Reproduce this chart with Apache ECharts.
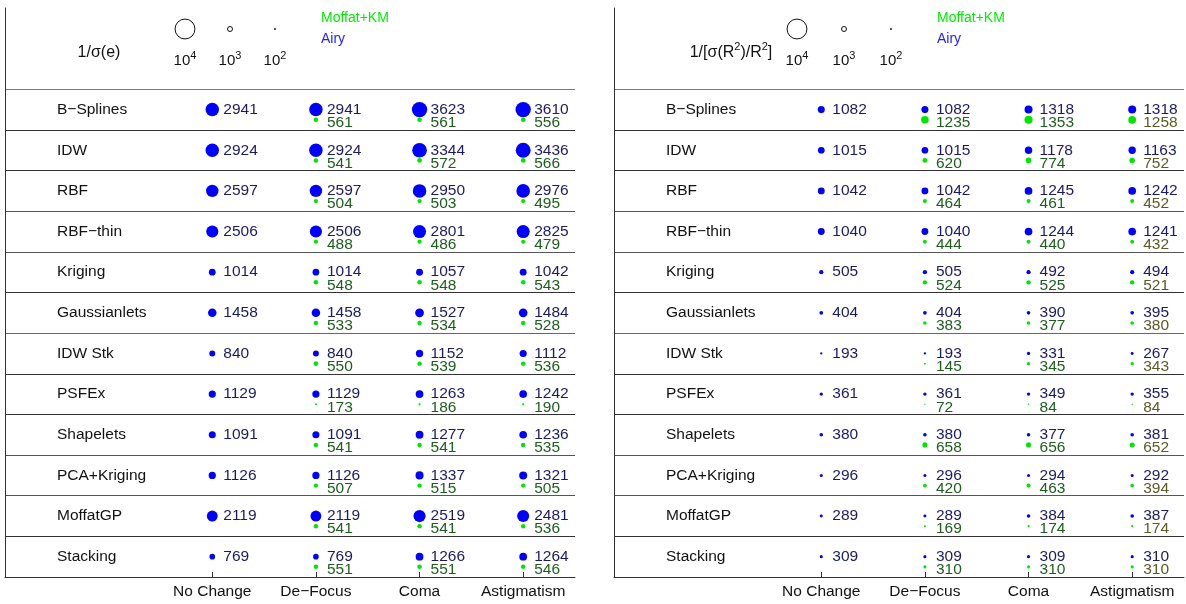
<!DOCTYPE html>
<html>
<head>
<meta charset="utf-8">
<script src="https://cdn.jsdelivr.net/npm/echarts@6/dist/echarts.min.js"></script>
<style>
  html, body { margin: 0; padding: 0; background: #fff; }
  #chart { width: 1186px; height: 604px; }
</style>
</head>
<body>
<div id="chart"></div>
<script>
// rows of the table, top to bottom
const methods = ['B\u2212Splines', 'IDW', 'RBF', 'RBF\u2212thin', 'Kriging', 'Gaussianlets',
  'IDW Stk', 'PSFEx', 'Shapelets', 'PCA+Kriging', 'MoffatGP', 'Stacking'];
const columns = ['No Change', 'De\u2212Focus', 'Coma', 'Astigmatism'];

// 1/sigma(e) : Airy (all 4 columns) and Moffat+KM (De-Focus, Coma, Astigmatism)
const ellAiry = [
  [2941, 2941, 3623, 3610],
  [2924, 2924, 3344, 3436],
  [2597, 2597, 2950, 2976],
  [2506, 2506, 2801, 2825],
  [1014, 1014, 1057, 1042],
  [1458, 1458, 1527, 1484],
  [840, 840, 1152, 1112],
  [1129, 1129, 1263, 1242],
  [1091, 1091, 1277, 1236],
  [1126, 1126, 1337, 1321],
  [2119, 2119, 2519, 2481],
  [769, 769, 1266, 1264]
];
const ellMoffat = [
  [561, 561, 556],
  [541, 572, 566],
  [504, 503, 495],
  [488, 486, 479],
  [548, 548, 543],
  [533, 534, 528],
  [550, 539, 536],
  [173, 186, 190],
  [541, 541, 535],
  [507, 515, 505],
  [541, 541, 536],
  [551, 551, 546]
];

// 1/[sigma(R^2)/R^2]
const sizeAiry = [
  [1082, 1082, 1318, 1318],
  [1015, 1015, 1178, 1163],
  [1042, 1042, 1245, 1242],
  [1040, 1040, 1244, 1241],
  [505, 505, 492, 494],
  [404, 404, 390, 395],
  [193, 193, 331, 267],
  [361, 361, 349, 355],
  [380, 380, 377, 381],
  [296, 296, 294, 292],
  [289, 289, 384, 387],
  [309, 309, 309, 310]
];
const sizeMoffat = [
  [1235, 1353, 1258],
  [620, 774, 752],
  [464, 461, 452],
  [444, 440, 432],
  [524, 525, 521],
  [383, 377, 380],
  [145, 345, 343],
  [72, 84, 84],
  [658, 656, 652],
  [420, 463, 394],
  [169, 174, 174],
  [310, 310, 310]
];

const keyValues = [10000, 1000, 100];
const keyExp = ['4', '3', '2'];

const FONT = "'Liberation Sans', Arial, Helvetica, sans-serif";
const BLUE = '#0000ff';
const GREEN = '#00e600';
const NAVY = '#1a1a66';
const DKGREEN = '#1d5e1d';
const OLIVE = '#5b5b25';

// marker diameter from value
function dotSize(v) {
  return Math.max(1.3, 0.075 * Math.pow(v, 0.65));
}
function keySize(v) {
  return 5 * Math.pow(v / 1000, 0.6);
}

const rowTicks = methods.map((m, i) => i).concat([methods.length]);
const rowMids = methods.map((m, i) => i + 0.5);

function airyData(arr) {
  const out = [];
  arr.forEach((row, i) => row.forEach((v, j) => out.push([j, i + 0.5, v])));
  return out;
}
function moffatData(arr, oliveLast) {
  const out = [];
  arr.forEach((row, i) => row.forEach((v, j) => {
    const item = { value: [j + 1, i + 0.75, v] };
    if (oliveLast && j === 2) item.label = { color: OLIVE };
    out.push(item);
  }));
  return out;
}

const grids = [
  { left: 5, top: 8, width: 570, height: 569 },
  { left: 614, top: 8, width: 570, height: 569 }
];

function xAx(idx) {
  return {
    type: 'value', gridIndex: idx, min: -2, max: 3.5, position: 'bottom',
    axisLine: { show: true, onZero: false, lineStyle: { color: '#333', width: 1 } },
    axisTick: { show: true, inside: true, length: 5, customValues: [0, 1, 2, 3], lineStyle: { color: '#333' } },
    axisLabel: {
      customValues: [0, 1, 2, 3], formatter: v => columns[Math.round(v)] || '',
      margin: 7, fontSize: 15.5, fontFamily: FONT, color: '#111'
    },
    splitLine: { show: false }
  };
}
function yAx(idx) {
  return {
    type: 'value', gridIndex: idx, inverse: true, min: -2, max: 12, interval: 1, position: 'left',
    axisLine: { show: true, onZero: false, lineStyle: { color: '#333', width: 1 } },
    axisTick: { show: false, customValues: rowTicks },
    splitLine: {
      show: true,
      lineStyle: { color: ['#7a7a7a', '#333', '#333', '#555', '#555', '#333', '#666', '#333', '#333', '#555', '#555', '#333', '#333'], width: 1.2 }
    },
    axisLabel: {
      inside: true, customValues: rowMids, margin: 52, align: 'left',
      formatter: v => methods[Math.floor(v)] || '',
      fontSize: 15.5, fontFamily: FONT, color: '#111'
    }
  };
}

function airySeries(idx, arr) {
  return {
    type: 'scatter', xAxisIndex: idx, yAxisIndex: idx, data: airyData(arr),
    symbol: 'circle', symbolSize: d => dotSize(d[2]),
    itemStyle: { color: BLUE, opacity: 1 },
    label: {
      show: true, position: 'inside', align: 'left', verticalAlign: 'middle',
      offset: [11, 0], formatter: p => p.value[2], color: NAVY,
      fontSize: 15.5, fontFamily: FONT
    },
    emphasis: { disabled: true }, silent: true, z: 3
  };
}
function moffatSeries(idx, arr, oliveLast) {
  return {
    type: 'scatter', xAxisIndex: idx, yAxisIndex: idx, data: moffatData(arr, oliveLast),
    symbol: 'circle', symbolSize: d => dotSize(d[2]),
    itemStyle: { color: GREEN, opacity: 1 },
    label: {
      show: true, position: 'inside', align: 'left', verticalAlign: 'middle',
      offset: [11, 3], formatter: p => p.value[2], color: DKGREEN,
      fontSize: 15.5, fontFamily: FONT
    },
    emphasis: { disabled: true }, silent: true, z: 3
  };
}

// header: titles, size key, colour key
function header(title, titleX, keyX, keyGap, colourX) {
  const els = [{
    type: 'text', x: titleX, y: 50,
    style: {
      text: title.text, rich: title.rich, fontSize: 16, fontFamily: FONT, fill: '#111',
      align: 'center', verticalAlign: 'middle'
    }
  }];
  keyValues.forEach((v, k) => {
    els.push({
      type: 'circle', shape: { cx: keyX + k * keyGap, cy: 29, r: keySize(v) / 2 },
      style: { fill: 'none', stroke: '#111', lineWidth: 1 }
    });
    els.push({
      type: 'text', x: keyX + k * keyGap, y: 59,
      style: {
        text: '{b|10}{s|' + keyExp[k] + '}',
        rich: { b: { fontSize: 15, fontFamily: FONT, fill: '#111', padding: [4, 0, 0, 0] },
                s: { fontSize: 11, fontFamily: FONT, fill: '#111', padding: [0, 0, 6, 0] } },
        align: 'center', verticalAlign: 'middle'
      }
    });
  });
  els.push({
    type: 'text', x: colourX, y: 18,
    style: { text: 'Moffat+KM', fontSize: 14, fontFamily: FONT, fill: '#00ee00', verticalAlign: 'middle' }
  });
  els.push({
    type: 'text', x: colourX, y: 39,
    style: { text: 'Airy', fontSize: 14, fontFamily: FONT, fill: '#2222ff', verticalAlign: 'middle' }
  });
  return els;
}

const supRich = {
  n: { fontSize: 16, fontFamily: FONT, fill: '#111', padding: [5, 0, 0, 0] },
  s: { fontSize: 11, fontFamily: FONT, fill: '#111', padding: [0, 0, 7, 0] }
};

const chart = echarts.init(document.getElementById('chart'), null, { renderer: 'canvas' });
chart.setOption({
  animation: false,
  backgroundColor: '#fff',
  grid: grids,
  xAxis: [xAx(0), xAx(1)],
  yAxis: [yAx(0), yAx(1)],
  series: [
    airySeries(0, ellAiry),
    moffatSeries(0, ellMoffat, false),
    airySeries(1, sizeAiry),
    moffatSeries(1, sizeMoffat, true)
  ],
  graphic: header({ text: '{n|1/\u03c3(e)}', rich: supRich }, 99, 185, 45, 321)
    .concat(header({ text: '{n|1/[\u03c3(R}{s|2}{n|)/R}{s|2}{n|]}', rich: supRich }, 731, 797, 47, 937))
});
</script>
</body>
</html>
